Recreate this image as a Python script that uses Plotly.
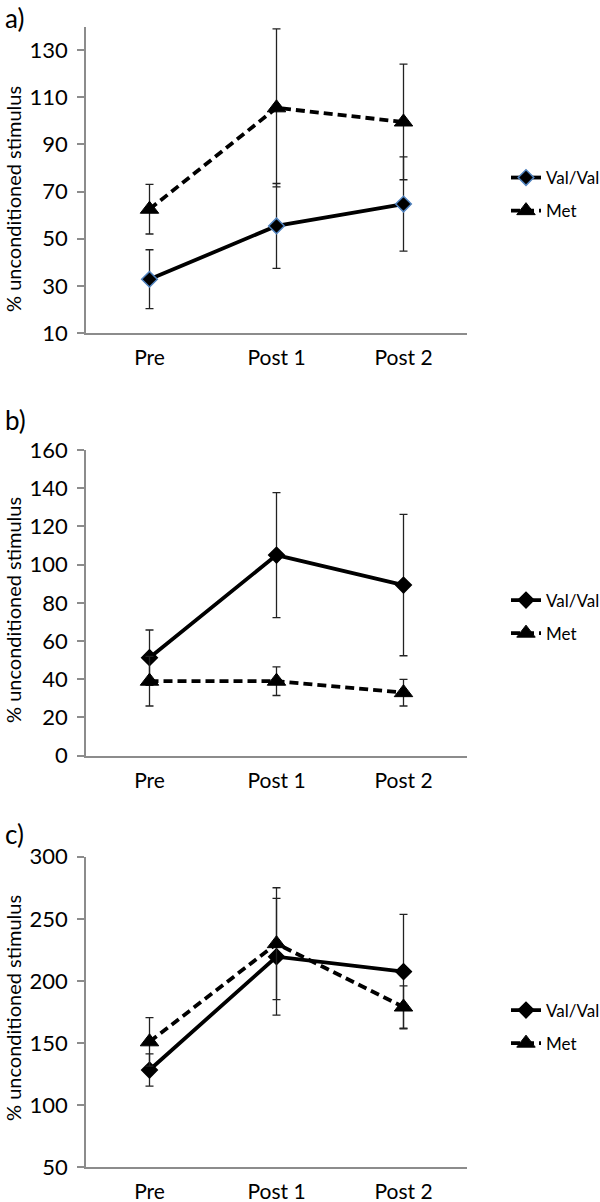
import plotly.graph_objects as go

categories = ["Pre", "Post 1", "Post 2"]

a_val = [32.8, 55.4, 64.7]
a_val_err = [12.5, 18.0, 20.0]
a_met = [62.5, 105.5, 99.5]
a_met_err = [10.5, 33.5, 24.5]

b_val = [51.3, 105.0, 89.3]
b_val_err = [14.5, 32.7, 37.0]
b_met = [39.0, 39.0, 33.0]
b_met_err = [13.0, 7.5, 7.0]

c_val = [128.3, 219.5, 207.5]
c_val_err = [13.0, 47.0, 46.0]
c_met = [151.0, 230.0, 179.0]
c_met_err = [19.5, 45.0, 17.0]

series_names = ["Val/Val", "Met"]
panel_labels = ["a)", "b)", "c)"]
y_title = "% unconditioned stimulus"
y_ranges = [(10, 140), (0, 160), (50, 300)]
y_dticks = [20, 20, 50]

W, H = 600, 1202
FONT = "Lato"
AX = "#8c8c8c"

def py(px):
    return 1 - px / H

# pixel layout of each panel: (top px, bottom px)
panels_px = [(26.5, 333.0), (450.0, 755.7), (856.7, 1167.3)]
x_dom = [86 / W, 467 / W]

fig = go.Figure()

panel_data = [
    (a_val, a_val_err, a_met, a_met_err, "#4F81BD"),
    (b_val, b_val_err, b_met, b_met_err, "black"),
    (c_val, c_val_err, c_met, c_met_err, "black"),
]

for i, (v, ve, m, me, dcol) in enumerate(panel_data):
    xa = "x" if i == 0 else f"x{i+1}"
    ya = "y" if i == 0 else f"y{i+1}"
    lg = "legend" if i == 0 else f"legend{i+1}"
    fig.add_trace(go.Scatter(
        x=categories, y=v, name=series_names[0], xaxis=xa, yaxis=ya, legend=lg,
        legendgroup=f"v{i}",
        mode="lines+markers",
        line=dict(color="black", width=3.8),
        marker=dict(symbol="diamond", size=12, color="black",
                    line=dict(color=dcol, width=1.5)),
        error_y=dict(type="data", array=ve, visible=True, color="#222222",
                     thickness=1.3, width=4),
    ))
    fig.add_trace(go.Scatter(
        x=categories, y=m, name=series_names[1], xaxis=xa, yaxis=ya, legend=lg,
        legendgroup=f"m{i}",
        mode="lines+markers",
        line=dict(color="black", width=3.8, dash="9px,5px"),
        marker=dict(symbol="triangle-up", size=16, color="black",
                    line=dict(color="black", width=1)),
        error_y=dict(type="data", array=me, visible=True, color="#222222",
                     thickness=1.3, width=4),
    ))

layout = dict(
    width=W, height=H,
    margin=dict(l=0, r=0, t=0, b=0, autoexpand=False),
    paper_bgcolor="white", plot_bgcolor="white",
    font=dict(family=FONT, size=20, color="black"),
    showlegend=True,
)

annotations = []
for i, ((top, bot), (y0, y1), dt) in enumerate(zip(panels_px, y_ranges, y_dticks)):
    sfx = "" if i == 0 else str(i + 1)
    layout[f"xaxis{sfx}"] = dict(
        domain=x_dom, anchor=f"y{sfx}", type="category", range=[-0.5, 2.5],
        showline=True, linecolor=AX, linewidth=1.5, showgrid=False,
        zeroline=False, ticks="", tickfont=dict(family=FONT, size=21),
        ticklabelstandoff=5, fixedrange=True, automargin=False,
    )
    layout[f"yaxis{sfx}"] = dict(
        domain=[py(bot), py(top)], anchor=f"x{sfx}", range=[y0, y1],
        tick0=y0, dtick=dt, showline=True, linecolor=AX, linewidth=1.5,
        showgrid=False, zeroline=False, ticks="outside", ticklen=7,
        tickcolor=AX, tickwidth=1.5, tickfont=dict(family=FONT, size=22),
        ticklabelstandoff=5, fixedrange=True, automargin=False,
    )
    legname = "legend" if i == 0 else f"legend{i+1}"
    leg_center = [194.5, 617, 1027][i]
    layout[legname] = dict(
        x=506 / W, y=py(leg_center), xanchor="left", yanchor="middle",
        font=dict(family=FONT, size=17, color="black"),
        bgcolor="rgba(0,0,0,0)", tracegroupgap=8, traceorder="grouped",
    )
    # panel label
    annotations.append(dict(
        text=panel_labels[i], xref="paper", yref="paper",
        x=3 / W, y=py([0, 402, 816][i]), xanchor="left", yanchor="top",
        showarrow=False, font=dict(family=FONT, size=26, color="black"),
    ))
    # y title
    annotations.append(dict(
        text=y_title, xref="paper", yref="paper",
        x=13 / W, y=py([199, 610, 1008][i]), xanchor="center", yanchor="middle",
        textangle=-90, showarrow=False,
        font=dict(family=FONT, size=20, color="black"),
    ))

layout["annotations"] = annotations
fig.update_layout(**layout)

fig.write_html("out.html", config={"displayModeBar": False},
               post_script="document.body.style.margin='0';")
